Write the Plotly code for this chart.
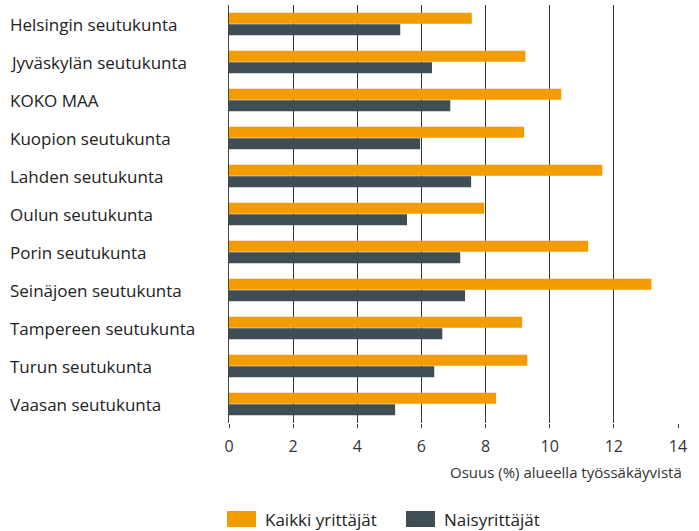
import plotly.graph_objects as go

regions = [
    "Helsingin seutukunta", "Jyväskylän seutukunta", "KOKO MAA",
    "Kuopion seutukunta", "Lahden seutukunta", "Oulun seutukunta",
    "Porin seutukunta", "Seinäjoen seutukunta", "Tampereen seutukunta",
    "Turun seutukunta", "Vaasan seutukunta",
]
kaikki = [7.57, 9.24, 10.36, 9.20, 11.64, 7.96, 11.20, 13.17, 9.14, 9.30, 8.33]
naiset = [5.34, 6.33, 6.90, 5.96, 7.55, 5.55, 7.21, 7.36, 6.65, 6.40, 5.18]
x_ticks = [0, 2, 4, 6, 8, 10, 12, 14]

ORANGE = "#f39c00"
DARK = "#3f4e55"
FONT = "Open Sans"

fig = go.Figure()
fig.add_trace(go.Bar(y=regions, x=kaikki, orientation="h", name="Kaikki yrittäjät",
                     marker=dict(color=ORANGE, line=dict(width=0))))
fig.add_trace(go.Bar(y=regions, x=naiset, orientation="h", name="Naisyrittäjät",
                     marker=dict(color=DARK, line=dict(width=0))))

# left aligned category labels
annotations = [
    dict(text=r, x=0, xref="paper", xshift=-221, y=r, yref="y", xanchor="left",
         showarrow=False, font=dict(family=FONT, size=17, color="#222"))
    for r in regions
]
annotations.append(dict(text="Osuus (%) alueella työssäkäyvistä", x=1, xref="paper",
                        xanchor="right", xshift=6, y=0, yref="paper", yshift=-49,
                        yanchor="middle",
                        showarrow=False, font=dict(family=FONT, size=15, color="#333")))

# legend drawn by hand to get the wide swatches
PLOT_H = 418
shapes = []
legend_items = [("Kaikki yrittäjät", ORANGE, 227), ("Naisyrittäjät", DARK, 406)]
for label, col, x0 in legend_items:
    shapes.append(dict(type="rect", xref="paper", yref="paper",
                       x0=(x0 - 229) / 449, x1=(x0 + 29 - 229) / 449,
                       y0=-(511 - 423) / PLOT_H, y1=-(527 - 423) / PLOT_H,
                       fillcolor=col, line=dict(width=0)))
    annotations.append(dict(text=label, x=(x0 + 36 - 229) / 449, xref="paper", xanchor="left",
                            y=-(519 - 423) / PLOT_H, yref="paper", yanchor="middle",
                            showarrow=False, font=dict(family=FONT, size=17, color="#222")))

fig.update_layout(
    width=699, height=531,
    margin=dict(l=229, r=21, t=5, b=108),
    paper_bgcolor="white", plot_bgcolor="white",
    barmode="group", bargap=0.4, bargroupgap=0.04,
    showlegend=False,
    font=dict(family=FONT, color="#333"),
    xaxis=dict(range=[0, 14], tickvals=x_ticks, showgrid=True, gridcolor="#3a3a3a",
               gridwidth=1, zeroline=False, showline=False, ticks="outside",
               ticklen=4, tickcolor="#3a3a3a", ticklabelstandoff=5,
               tickfont=dict(size=16, color="#333"), fixedrange=True),
    yaxis=dict(categoryorder="array", categoryarray=regions, autorange="reversed",
               showticklabels=False, showgrid=False, zeroline=False,
               showline=True, linecolor="#444", linewidth=1, fixedrange=True),
    annotations=annotations,
    shapes=shapes,
)

fig.write_html("out.html", config={"displayModeBar": False},
               post_script="document.body.style.margin = '0';")
